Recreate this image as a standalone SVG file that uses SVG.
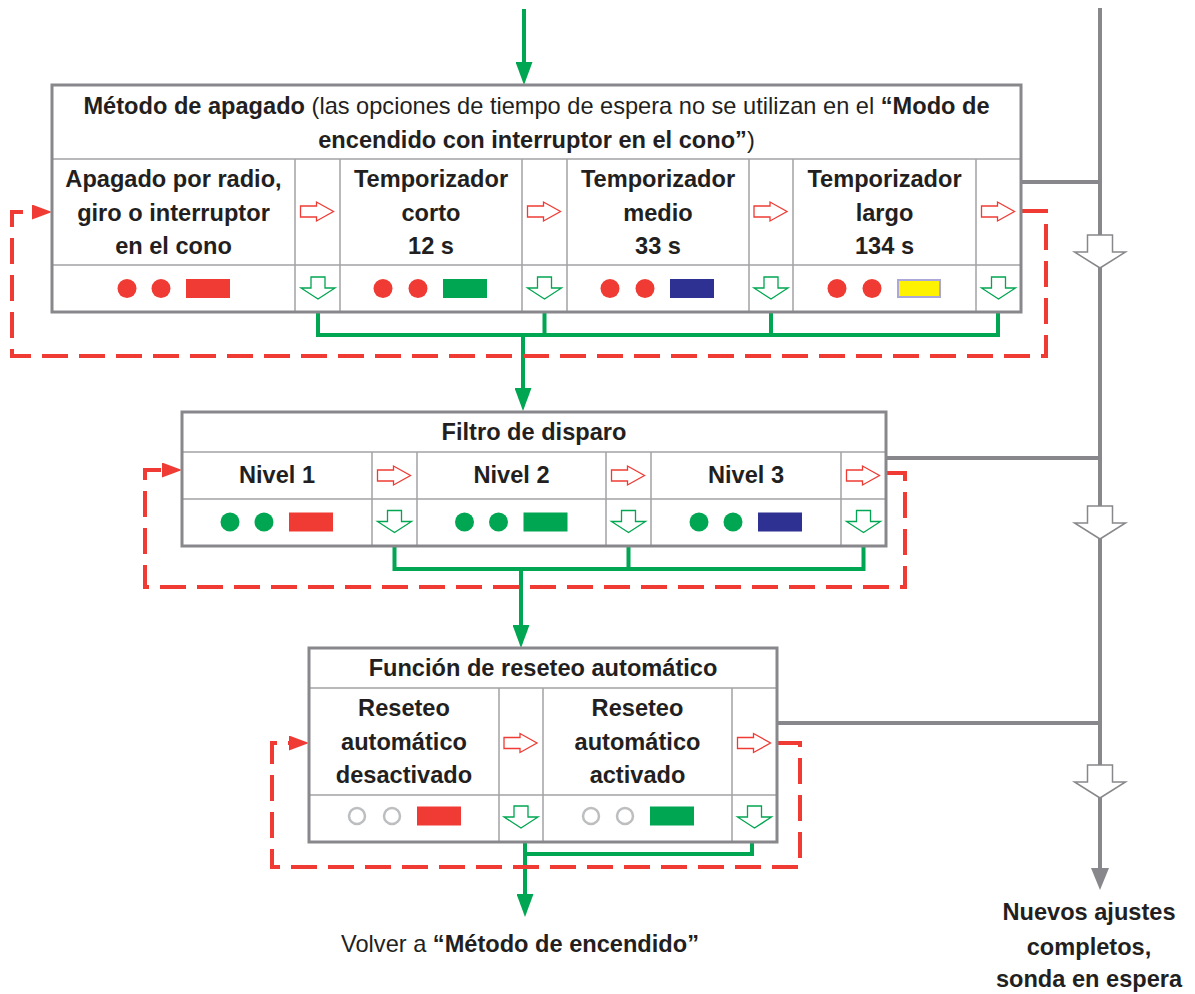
<svg xmlns="http://www.w3.org/2000/svg" width="1195" height="994" viewBox="0 0 1195 994">
<style>
text{font-family:"Liberation Sans",Arial,Helvetica,sans-serif;font-size:23.6px;fill:#231f20;text-anchor:middle;font-weight:bold}
.r{font-weight:normal}
.outer{fill:none;stroke:#88888c;stroke-width:3}
.inner{fill:none;stroke:#a3a3a6;stroke-width:1.5}
.grn{fill:none;stroke:#00a651;stroke-width:4}
.red{fill:none;stroke:#ef3b33;stroke-width:4;stroke-dasharray:26 11}
.gry{fill:none;stroke:#88888c;stroke-width:4}
.ra{fill:#fff;stroke:#ef3b33;stroke-width:1.3}
.ga{fill:#fff;stroke:#00a651;stroke-width:1.3}
.ha{fill:#fff;stroke:#88888c;stroke-width:1.5}
.cr{fill:#ef3b33}.cg{fill:#00a651}.cb{fill:#2e3192}
.cy{fill:#fff200;stroke:#a9a8d8;stroke-width:2}
.co{fill:none;stroke:#bcbec0;stroke-width:2.5}
</style>
<defs>
<path id="rarr" d="M-17,-5.5 H-1 V-9.5 L16,0 L-1,9.5 V5.5 H-17 Z"/>
<path id="garr" d="M-7,-11 H7 V0 H17 L0,11 L-17,0 H-7 Z"/>
<path id="harr" d="M-12.5,-17 H12.5 V0 H25.5 L0,16 L-25.5,0 H-12.5 Z"/>
<marker id="mg" markerUnits="userSpaceOnUse" markerWidth="23" markerHeight="17" refX="0" refY="8.5" orient="auto"><path d="M0,0 L23,8.5 L0,17 Z" fill="#00a651"/></marker>
<marker id="mr" markerUnits="userSpaceOnUse" markerWidth="20" markerHeight="15" refX="0" refY="7.5" orient="auto"><path d="M0,0 L20,7.5 L0,15 Z" fill="#ef3b33"/></marker>
<marker id="mh" markerUnits="userSpaceOnUse" markerWidth="22" markerHeight="18" refX="0" refY="9" orient="auto"><path d="M0,0 L22,9 L0,18 Z" fill="#88888c"/></marker>
</defs>

<g id="connectors">
<path class="gry" d="M1100,8 V868" marker-end="url(#mh)"/>
<path class="gry" d="M1021,182 H1100 M886,458 H1100 M777,723 H1100"/>
<use href="#harr" class="ha" x="1100" y="252"/>
<use href="#harr" class="ha" x="1100" y="523"/>
<use href="#harr" class="ha" x="1100" y="782"/>
<path class="grn" d="M524,9 V62" marker-end="url(#mg)"/>
<path class="grn" d="M318,312 V335 H998 V312 M544.5,312 V335 M771,312 V335"/>
<path class="grn" d="M523,335 V388" marker-end="url(#mg)"/>
<path class="grn" d="M394.5,546 V569 H863.5 V546 M628.5,546 V569"/>
<path class="grn" d="M521,569 V625" marker-end="url(#mg)"/>
<path class="grn" d="M525,854 H752 V842"/>
<path class="grn" d="M525,842 V894" marker-end="url(#mg)"/>
<path class="red" d="M1022,211 H1046 V356 H12 V212 H32" marker-end="url(#mr)"/>
<path class="red" d="M887,473 H905 V587 H145 V470 H162" marker-end="url(#mr)"/>
<path class="red" d="M778,743 H800 V867 H272 V743 H289" marker-end="url(#mr)"/>
</g>

<g id="metodo-apagado">
<rect x="52" y="85" width="969" height="227" fill="#fff"/>
<path class="inner" d="M52,159 H1021 M52,265 H1021 M295,159 V312 M340,159 V312 M522,159 V312 M567,159 V312 M749,159 V312 M793,159 V312 M976,159 V312"/>
<rect class="outer" x="52" y="85" width="969" height="227"/>
<text x="536.5" y="114"><tspan>Método de apagado</tspan><tspan class="r"> (las opciones de tiempo de espera no se utilizan en el </tspan><tspan>“Modo de</tspan></text>
<text x="536.5" y="148"><tspan>encendido con interruptor en el cono”</tspan><tspan class="r">)</tspan></text>
<text x="173.5" y="187">Apagado por radio,</text>
<text x="173.5" y="220.5">giro o interruptor</text>
<text x="173.5" y="254">en el cono</text>
<text x="431" y="187">Temporizador</text>
<text x="431" y="220.5">corto</text>
<text x="431" y="254">12 s</text>
<text x="658" y="187">Temporizador</text>
<text x="658" y="220.5">medio</text>
<text x="658" y="254">33 s</text>
<text x="884.5" y="187">Temporizador</text>
<text x="884.5" y="220.5">largo</text>
<text x="884.5" y="254">134 s</text>
<use href="#rarr" class="ra" x="317.5" y="211.5"/>
<use href="#rarr" class="ra" x="544.5" y="211.5"/>
<use href="#rarr" class="ra" x="771" y="211.5"/>
<use href="#rarr" class="ra" x="998.5" y="211.5"/>
<use href="#garr" class="ga" x="318" y="288"/>
<use href="#garr" class="ga" x="544.5" y="288"/>
<use href="#garr" class="ga" x="771" y="288"/>
<use href="#garr" class="ga" x="998.5" y="288"/>
<circle class="cr" cx="127" cy="288.5" r="9.5"/><circle class="cr" cx="161" cy="288.5" r="9.5"/><rect class="cr" x="186" y="279" width="44" height="19"/>
<circle class="cr" cx="383" cy="288.5" r="9.5"/><circle class="cr" cx="418" cy="288.5" r="9.5"/><rect class="cg" x="443" y="279" width="44" height="19"/>
<circle class="cr" cx="610" cy="288.5" r="9.5"/><circle class="cr" cx="645" cy="288.5" r="9.5"/><rect class="cb" x="670" y="279" width="44" height="19"/>
<circle class="cr" cx="837" cy="288.5" r="9.5"/><circle class="cr" cx="872" cy="288.5" r="9.5"/><rect class="cy" x="898" y="280" width="42" height="17"/>
</g>

<g id="filtro-disparo">
<rect x="182" y="412" width="704" height="134" fill="#fff"/>
<path class="inner" d="M182,452 H886 M182,499 H886 M372,452 V546 M417,452 V546 M606,452 V546 M651,452 V546 M841,452 V546"/>
<rect class="outer" x="182" y="412" width="704" height="134"/>
<text x="534" y="440">Filtro de disparo</text>
<text x="277" y="483">Nivel 1</text>
<text x="511.5" y="483">Nivel 2</text>
<text x="746" y="483">Nivel 3</text>
<use href="#rarr" class="ra" x="394.5" y="475.5"/>
<use href="#rarr" class="ra" x="628.5" y="475.5"/>
<use href="#rarr" class="ra" x="863.5" y="475.5"/>
<use href="#garr" class="ga" x="394.5" y="521.5"/>
<use href="#garr" class="ga" x="628.5" y="521.5"/>
<use href="#garr" class="ga" x="863.5" y="521.5"/>
<circle class="cg" cx="230" cy="522" r="9.5"/><circle class="cg" cx="264" cy="522" r="9.5"/><rect class="cr" x="289" y="512.5" width="44" height="19"/>
<circle class="cg" cx="464.5" cy="522" r="9.5"/><circle class="cg" cx="498.5" cy="522" r="9.5"/><rect class="cg" x="523.5" y="512.5" width="44" height="19"/>
<circle class="cg" cx="699" cy="522" r="9.5"/><circle class="cg" cx="733" cy="522" r="9.5"/><rect class="cb" x="758" y="512.5" width="44" height="19"/>
</g>

<g id="reseteo-automatico">
<rect x="309" y="648" width="468" height="194" fill="#fff"/>
<path class="inner" d="M309,688 H777 M309,795 H777 M499,688 V842 M543,688 V842 M732,688 V842"/>
<rect class="outer" x="309" y="648" width="468" height="194"/>
<text x="543" y="676">Función de reseteo automático</text>
<text x="404" y="716">Reseteo</text>
<text x="404" y="749.5">automático</text>
<text x="404" y="783">desactivado</text>
<text x="637.5" y="716">Reseteo</text>
<text x="637.5" y="749.5">automático</text>
<text x="637.5" y="783">activado</text>
<use href="#rarr" class="ra" x="521" y="743"/>
<use href="#rarr" class="ra" x="754.5" y="743"/>
<use href="#garr" class="ga" x="521" y="817"/>
<use href="#garr" class="ga" x="754.5" y="817"/>
<circle class="co" cx="357" cy="816" r="8"/><circle class="co" cx="392" cy="816" r="8"/><rect class="cr" x="417" y="806.5" width="44" height="19"/>
<circle class="co" cx="591" cy="816" r="8"/><circle class="co" cx="625" cy="816" r="8"/><rect class="cg" x="650" y="806.5" width="44" height="19"/>
</g>

<g id="volver">
<text x="520" y="952"><tspan class="r">Volver a </tspan><tspan>“Método de encendido”</tspan></text>
</g>

<g id="nuevos-ajustes">
<text x="1089" y="920">Nuevos ajustes</text>
<text x="1089" y="955">completos,</text>
<text x="1089" y="987">sonda en espera</text>
</g>
</svg>
